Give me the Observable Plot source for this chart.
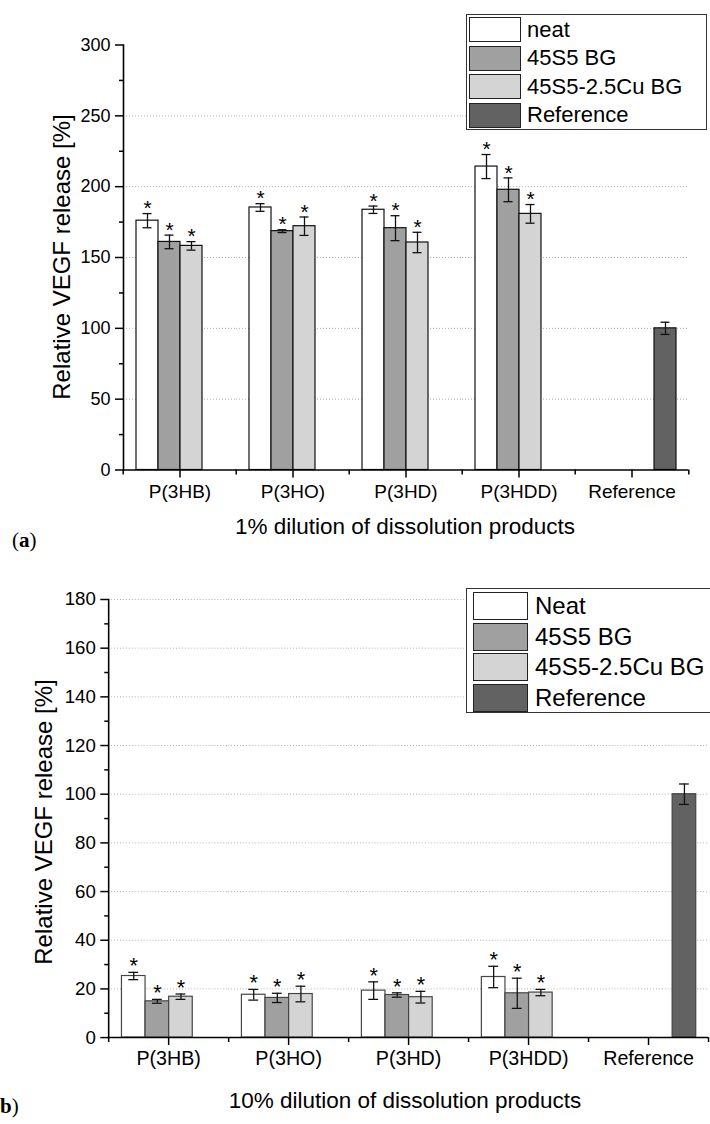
<!DOCTYPE html>
<html><head><meta charset="utf-8">
<script src="https://cdn.jsdelivr.net/npm/d3@7"></script>
<script src="https://cdn.jsdelivr.net/npm/@observablehq/plot@0.6"></script>
<style>
html,body{margin:0;padding:0;background:#fff;overflow:hidden;}
#page{position:relative;width:710px;height:1124px;overflow:hidden;font-family:"Liberation Sans",Arial,sans-serif;color:#000;background:#fff;}
#page svg{position:absolute;left:0;}
.ytitle{position:absolute;white-space:nowrap;transform:translate(-50%,-50%) rotate(-90deg);}
.xtitle{position:absolute;white-space:nowrap;transform:translate(-50%,-50%);}
.legend{position:absolute;border:1px solid #333;background:#fff;box-sizing:border-box;}
.row{position:absolute;white-space:nowrap;line-height:1;}
.sw{position:absolute;border:1px solid #222;box-sizing:border-box;}
.panel{position:absolute;font-family:"Liberation Serif","DejaVu Serif",serif;white-space:nowrap;transform:translateY(-50%);}
</style></head><body><div id="page"></div>
<script>
// ---- data ----
const categories = ["P(3HB)", "P(3HO)", "P(3HD)", "P(3HDD)", "Reference"];
const seriesA = ["neat", "45S5 BG", "45S5-2.5Cu BG", "Reference"];
const seriesB = ["Neat", "45S5 BG", "45S5-2.5Cu BG", "Reference"];
const colors = ["#ffffff", "#a0a0a0", "#d4d4d4", "#626262"];

// (a) 1% dilution — values for P(3HB), P(3HO), P(3HD), P(3HDD)
const aNeat = [176.0, 185.3, 183.7, 214.2];
const aNeatErr = [5.0, 2.7, 2.6, 8.5];
const aBG = [161.0, 168.6, 170.7, 197.8];
const aBGErr = [4.8, 1.0, 8.8, 8.4];
const aCu = [158.2, 172.1, 160.6, 180.8];
const aCuErr = [3.0, 6.5, 7.2, 6.6];
const aRef = [100.0];
const aRefErr = [4.3];

// (b) 10% dilution
const bNeat = [25.3, 17.6, 19.3, 24.9];
const bNeatErr = [1.5, 2.2, 3.6, 4.4];
const bBG = [14.9, 16.3, 17.5, 18.2];
const bBGErr = [0.8, 1.9, 0.9, 6.2];
const bCu = [16.8, 17.9, 16.6, 18.5];
const bCuErr = [1.1, 3.2, 2.4, 1.3];
const bRef = [100.0];
const bRefErr = [4.2];

const aYTicks = [0, 50, 100, 150, 200, 250, 300];
const aYMinor = [25, 75, 125, 175, 225, 275];
const aGrid = [50, 100, 150, 200, 250];
const bYTicks = [0, 20, 40, 60, 80, 100, 120, 140, 160, 180];
const bYMinor = [10, 30, 50, 70, 90, 110, 130, 150, 170];
const bGrid = [20, 40, 60, 80, 100, 120, 140, 160, 180];

function buildRows(series, neat, neatErr, bg, bgErr, cu, cuErr, ref, refErr) {
  const rows = [];
  for (let i = 0; i < 4; i++) {
    rows.push({cat: categories[i], series: series[0], value: neat[i], err: neatErr[i], star: true});
    rows.push({cat: categories[i], series: series[1], value: bg[i], err: bgErr[i], star: true});
    rows.push({cat: categories[i], series: series[2], value: cu[i], err: cuErr[i], star: true});
  }
  rows.push({cat: categories[4], series: series[3], value: ref[0], err: refErr[0], star: false});
  return rows;
}

const dataA = buildRows(seriesA, aNeat, aNeatErr, aBG, aBGErr, aCu, aCuErr, aRef, aRefErr);
const dataB = buildRows(seriesB, bNeat, bNeatErr, bBG, bBGErr, bCu, bCuErr, bRef, bRefErr);

const FONT = '"Liberation Sans", Arial, sans-serif';

function chart(o) {
  const step = (o.width - o.ml - o.mr) / categories.length;
  return Plot.plot({
    width: o.width, height: o.height,
    marginTop: o.mt, marginBottom: o.mb, marginLeft: o.ml, marginRight: o.mr,
    style: {fontFamily: FONT, background: "transparent", overflow: "visible", color: "#000"},
    fx: {domain: categories, padding: 0, label: null},
    x: {domain: o.series, paddingInner: 0, paddingOuter: 0.5, axis: null},
    y: {domain: [0, o.ymax], label: null},
    color: {domain: o.series, range: colors},
    marks: [
      Plot.gridY({ticks: o.grid, stroke: "#b0b0b0", strokeOpacity: 1, strokeDasharray: "1,2", strokeWidth: 1}),
      Plot.barY(o.data, {fx: "cat", x: "series", y: "value", fill: "series", stroke: o.barStroke, strokeWidth: 1.2}),
      Plot.ruleX(o.data, {fx: "cat", x: "series", y1: d => d.value - d.err, y2: d => d.value + d.err, stroke: "#111", strokeWidth: 1.3}),
      Plot.tickY(o.data, {fx: "cat", x: "series", y: d => d.value + d.err, inset: o.capInset, stroke: "#111", strokeWidth: 1.3}),
      Plot.tickY(o.data, {fx: "cat", x: "series", y: d => d.value - d.err, inset: o.capInset, stroke: "#111", strokeWidth: 1.3}),
      Plot.text(o.data.filter(d => d.star), {fx: "cat", x: "series", y: d => d.value + d.err, text: () => "*", dy: o.starDy, fontSize: o.starFont, fill: "#000"}),
      Plot.ruleY([0], {stroke: "#000", strokeWidth: 1.6}),
      Plot.frame({anchor: "left", facetAnchor: "left", stroke: "#000", strokeWidth: 1.6}),
      Plot.axisY({ticks: o.yticks, tickSize: 8, tickPadding: 5, fontSize: o.tickFont, label: null, strokeWidth: 1.5}),
      Plot.axisY({ticks: o.yminor, tickSize: 4, tickFormat: () => "", label: null, strokeWidth: 1.5}),
      Plot.axisFx({anchor: "bottom", tickSize: 8, tickPadding: 6, fontSize: o.xFont, label: null, strokeWidth: 1.5}),
      Plot.axisFx({anchor: "bottom", tickSize: 5, tickFormat: () => "", label: null, strokeWidth: 1.5, dx: -step / 2}),
      Plot.axisFx({anchor: "bottom", ticks: [categories[categories.length - 1]], tickSize: 5, tickFormat: () => "", label: null, strokeWidth: 1.5, dx: step / 2})
    ]
  });
}

const page = document.getElementById("page");

const svgA = chart({
  data: dataA, series: seriesA, ymax: 300, yticks: aYTicks, yminor: aYMinor, grid: aGrid,
  width: 710, height: 560, mt: 44.5, mb: 90.5, ml: 121, mr: 21,
  tickFont: 18, xFont: 19, starFont: 21, starDy: -5, capInset: 6.5, barStroke: "#111"
});
svgA.style.top = "0px";
page.appendChild(svgA);

const svgB = chart({
  data: dataB, series: seriesB, ymax: 180, yticks: bYTicks, yminor: bYMinor, grid: bGrid,
  width: 722, height: 554, mt: 29.5, mb: 79, ml: 109.5, mr: 2.5,
  tickFont: 19, xFont: 20, starFont: 22, starDy: -6, capInset: 7, barStroke: "#444"
});
svgB.style.top = "570px";
page.appendChild(svgB);

function addText(cls, txt, x, y, size, html) {
  const d = document.createElement("div");
  d.className = cls;
  d.style.left = x + "px";
  d.style.top = y + "px";
  d.style.fontSize = size + "px";
  if (html) d.innerHTML = txt; else d.textContent = txt;
  page.appendChild(d);
  return d;
}

addText("ytitle", "Relative VEGF release [%]", 62, 257, 24);
addText("ytitle", "Relative VEGF release [%]", 44, 822, 24);
addText("xtitle", "1% dilution of dissolution products", 405, 527, 22.5);
addText("xtitle", "10% dilution of dissolution products", 405, 1101, 22.5);
addText("panel", "(<b>a</b>)", 12, 540, 21, true);
addText("panel", "(<b>b</b>)", -7, 1106, 21, true);

function legend(series, o) {
  const box = document.createElement("div");
  box.className = "legend";
  Object.assign(box.style, {left: o.left + "px", top: o.top + "px", width: o.w + "px", height: o.h + "px"});
  series.forEach((s, i) => {
    const sw = document.createElement("div");
    sw.className = "sw";
    Object.assign(sw.style, {left: o.swx + "px", top: (o.swy + i * o.pitch) + "px", width: o.sww + "px", height: o.swh + "px", background: colors[i]});
    box.appendChild(sw);
    const t = document.createElement("div");
    t.className = "row";
    t.textContent = s;
    Object.assign(t.style, {left: o.tx + "px", top: (o.swy + i * o.pitch + o.swh / 2) + "px", fontSize: o.font + "px", transform: "translateY(-50%)"});
    box.appendChild(t);
  });
  page.appendChild(box);
}

legend(seriesA, {left: 466, top: 14, w: 241, h: 116, swx: 1.5, swy: 2, sww: 52, swh: 25, pitch: 28.6, tx: 60, font: 22});
legend(seriesB, {left: 466, top: 588, w: 262, h: 125, swx: 5.5, swy: 3, sww: 55, swh: 28, pitch: 30.6, tx: 68, font: 24});
</script>
</body></html>
